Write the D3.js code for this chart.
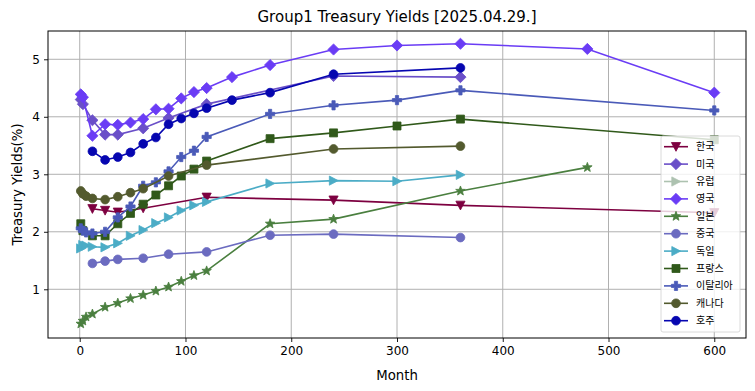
<!DOCTYPE html>
<html>
<head>
<meta charset="utf-8">
<script src="https://cdn.jsdelivr.net/npm/d3@7"></script>
<style>
  body { margin: 0; background: #fff; }
  text { font-family: "DejaVu Sans", sans-serif; }
  .legend text { font-family: "Noto Sans CJK KR", sans-serif; }
</style>
</head>
<body>
<div id="chart"></div>
<script>
const title = "Group1 Treasury Yields [2025.04.29.]";
const xTicks = [0, 100, 200, 300, 400, 500, 600];
const yTicks = [1, 2, 3, 4, 5];

const countries = ["한국", "미국", "유럽", "영국", "일본", "중국", "독일", "프랑스", "이탈리아", "캐나다", "호주"];

const krMonths = [12, 24, 36, 60, 120, 240, 360, 600];
const krYields = [2.40, 2.37, 2.34, 2.41, 2.60, 2.55, 2.46, 2.33];

const usMonths = [1, 3, 12, 24, 36, 60, 84, 120, 240, 360];
const usYields = [4.30, 4.22, 3.94, 3.69, 3.69, 3.80, 3.98, 4.22, 4.71, 4.69];

const euMonths = [];
const euYields = [];

const ukMonths = [1, 3, 12, 24, 36, 48, 60, 72, 84, 96, 108, 120, 144, 180, 240, 300, 360, 480, 600];
const ukYields = [4.39, 4.34, 3.67, 3.87, 3.86, 3.90, 3.96, 4.13, 4.14, 4.32, 4.43, 4.50, 4.69, 4.90, 5.17, 5.24, 5.27, 5.18, 4.42];

const jpMonths = [1, 3, 6, 12, 24, 36, 48, 60, 72, 84, 96, 108, 120, 180, 240, 360, 480];
const jpYields = [0.40, 0.45, 0.52, 0.57, 0.69, 0.76, 0.84, 0.90, 0.97, 1.04, 1.14, 1.24, 1.32, 2.14, 2.22, 2.71, 3.12];

const cnMonths = [12, 24, 36, 60, 84, 120, 180, 240, 360];
const cnYields = [1.45, 1.49, 1.52, 1.54, 1.61, 1.65, 1.94, 1.96, 1.90];

const deMonths = [1, 3, 6, 12, 24, 36, 48, 60, 72, 84, 96, 108, 120, 180, 240, 300, 360];
const deYields = [1.71, 1.77, 1.76, 1.74, 1.73, 1.80, 1.93, 2.03, 2.15, 2.25, 2.37, 2.46, 2.52, 2.84, 2.89, 2.88, 2.99];

const frMonths = [1, 3, 12, 24, 36, 48, 60, 72, 84, 96, 108, 120, 180, 240, 300, 360, 600];
const frYields = [2.14, 2.02, 1.93, 1.93, 2.14, 2.32, 2.48, 2.64, 2.80, 2.97, 3.09, 3.23, 3.62, 3.72, 3.84, 3.96, 3.60];

const itMonths = [1, 3, 6, 12, 24, 36, 48, 60, 72, 84, 96, 108, 120, 180, 240, 300, 360, 600];
const itYields = [2.06, 2.02, 1.99, 1.97, 2.00, 2.25, 2.44, 2.80, 2.86, 3.05, 3.30, 3.41, 3.65, 4.05, 4.20, 4.29, 4.46, 4.11];

const caMonths = [1, 3, 6, 12, 24, 36, 48, 60, 84, 120, 240, 360];
const caYields = [2.71, 2.66, 2.62, 2.58, 2.56, 2.61, 2.68, 2.75, 2.97, 3.16, 3.44, 3.49];

const auMonths = [12, 24, 36, 48, 60, 72, 84, 96, 108, 120, 144, 180, 240, 360];
const auYields = [3.40, 3.25, 3.30, 3.38, 3.53, 3.64, 3.87, 3.97, 4.06, 4.15, 4.29, 4.42, 4.74, 4.85];

const allMonths = [krMonths, usMonths, euMonths, ukMonths, jpMonths, cnMonths, deMonths, frMonths, itMonths, caMonths, auMonths];
const allYields = [krYields, usYields, euYields, ukYields, jpYields, cnYields, deYields, frYields, itYields, caYields, auYields];
const colors = ["#7d0040", "#6a4fc8", "#adc2b0", "#6a3cf5", "#4a7f3f", "#6b6bc0", "#4bacc6", "#30591a", "#4a5ab8", "#535a2e", "#0606b0"];
const markers = ["tridown", "diamond", "triright", "diamond", "star", "circle", "triright", "square", "plus", "circle", "circle"];

// marker shapes drawn around (0,0)
const markerPath = (type) => {
  const pts = (arr) => "M" + arr.map((p) => p.join(",")).join("L") + "Z";
  if (type === "circle") return d3.symbol(d3.symbolCircle, 60)();
  if (type === "square") return pts([[-4, -4], [4, -4], [4, 4], [-4, 4]]);
  if (type === "diamond") return pts([[0, -5.6], [5.6, 0], [0, 5.6], [-5.6, 0]]);
  if (type === "tridown") return pts([[-4.6, -4.2], [4.6, -4.2], [0, 4.6]]);
  if (type === "triright") return pts([[-4.2, -4.6], [4.6, 0], [-4.2, 4.6]]);
  if (type === "plus") {
    const a = 1.6, b = 4.6;
    return pts([[-a, -b], [a, -b], [a, -a], [b, -a], [b, a], [a, a], [a, b], [-a, b], [-a, a], [-b, a], [-b, -a], [-a, -a]]);
  }
  if (type === "star") {
    const p = [];
    for (let i = 0; i < 10; i++) {
      const r = i % 2 === 0 ? 5 : 2.1;
      const ang = -Math.PI / 2 + (i * Math.PI) / 5;
      p.push([(r * Math.cos(ang)).toFixed(2), (r * Math.sin(ang)).toFixed(2)]);
    }
    return pts(p);
  }
};

const width = 755;
const height = 391;
const plot = { left: 48, top: 31, right: 746, bottom: 338 };

const svg = d3
  .select("#chart")
  .append("svg")
  .attr("width", width)
  .attr("height", height);

const x = d3.scaleLinear().domain([-30, 630]).range([plot.left, plot.right]);
const y = d3.scaleLinear().domain([0.153, 5.492]).range([plot.bottom, plot.top]);

// grid
svg
  .append("g")
  .selectAll("line.vgrid")
  .data(xTicks)
  .join("line")
  .attr("x1", (d) => x(d))
  .attr("x2", (d) => x(d))
  .attr("y1", plot.top)
  .attr("y2", plot.bottom)
  .attr("stroke", "#b0b0b0")
  .attr("stroke-width", 1);

svg
  .append("g")
  .selectAll("line.hgrid")
  .data(yTicks)
  .join("line")
  .attr("x1", plot.left)
  .attr("x2", plot.right)
  .attr("y1", (d) => y(d))
  .attr("y2", (d) => y(d))
  .attr("stroke", "#b0b0b0")
  .attr("stroke-width", 1);

// axes
const xAxis = svg
  .append("g")
  .attr("transform", `translate(0, ${plot.bottom})`)
  .call(d3.axisBottom(x).tickValues(xTicks).tickSize(4).tickPadding(4).tickFormat(d3.format("d")));
const yAxis = svg
  .append("g")
  .attr("transform", `translate(${plot.left}, 0)`)
  .call(d3.axisLeft(y).tickValues(yTicks).tickSize(4).tickPadding(4).tickFormat(d3.format("d")));

[xAxis, yAxis].forEach((ax) => {
  ax.select(".domain").remove();
  ax.selectAll("text").attr("font-size", 12).attr("fill", "#000").style("font-family", "DejaVu Sans");
  ax.selectAll("line").attr("stroke", "#000").attr("stroke-width", 0.9);
});

const line = d3
  .line()
  .x((d) => x(d[0]))
  .y((d) => y(d[1]));

countries.forEach((name, i) => {
  const pts = allMonths[i].map((m, j) => [m, allYields[i][j]]);
  const g = svg.append("g");
  g.append("path")
    .datum(pts)
    .attr("d", line)
    .attr("fill", "none")
    .attr("stroke", colors[i])
    .attr("stroke-width", 1.6);
  g.selectAll("path.mk")
    .data(pts)
    .join("path")
    .attr("class", "mk")
    .attr("d", markerPath(markers[i]))
    .attr("transform", (d) => `translate(${x(d[0])}, ${y(d[1])})`)
    .attr("fill", colors[i])
    .attr("stroke", colors[i])
    .attr("stroke-width", 0.8);
});

// frame
svg
  .append("rect")
  .attr("x", plot.left)
  .attr("y", plot.top)
  .attr("width", plot.right - plot.left)
  .attr("height", plot.bottom - plot.top)
  .attr("fill", "none")
  .attr("stroke", "#000")
  .attr("stroke-width", 1);

// legend
const legend = svg.append("g").attr("class", "legend");
const lgX = 661, lgY = 136, rowH = 17.4;
legend
  .append("rect")
  .attr("x", lgX)
  .attr("y", lgY)
  .attr("width", 79)
  .attr("height", 196)
  .attr("rx", 2)
  .attr("fill", "#fff")
  .attr("fill-opacity", 0.8)
  .attr("stroke", "#d0d0d0")
  .attr("stroke-width", 0.8);

countries.forEach((name, i) => {
  const cy = lgY + 10.7 + i * rowH;
  legend
    .append("line")
    .attr("x1", lgX + 3)
    .attr("x2", lgX + 27)
    .attr("y1", cy)
    .attr("y2", cy)
    .attr("stroke", colors[i])
    .attr("stroke-width", 1.6);
  legend
    .append("path")
    .attr("d", markerPath(markers[i]))
    .attr("transform", `translate(${lgX + 15}, ${cy})`)
    .attr("fill", colors[i])
    .attr("stroke", colors[i])
    .attr("stroke-width", 0.8);
  legend
    .append("text")
    .attr("x", lgX + 35)
    .attr("y", cy)
    .attr("dy", "0.35em")
    .attr("font-size", 10)
    .attr("fill", "#000")
    .text(name);
});

// titles
svg
  .append("text")
  .attr("x", (plot.left + plot.right) / 2)
  .attr("y", 22)
  .attr("text-anchor", "middle")
  .attr("font-size", 15)
  .text(title);

svg
  .append("text")
  .attr("x", (plot.left + plot.right) / 2)
  .attr("y", 380)
  .attr("text-anchor", "middle")
  .attr("font-size", 13.3)
  .text("Month");

svg
  .append("text")
  .attr("transform", `translate(21.5, ${(plot.top + plot.bottom) / 2}) rotate(-90)`)
  .attr("text-anchor", "middle")
  .attr("font-size", 13.3)
  .text("Treasury Yields(%)");
</script>
</body>
</html>
